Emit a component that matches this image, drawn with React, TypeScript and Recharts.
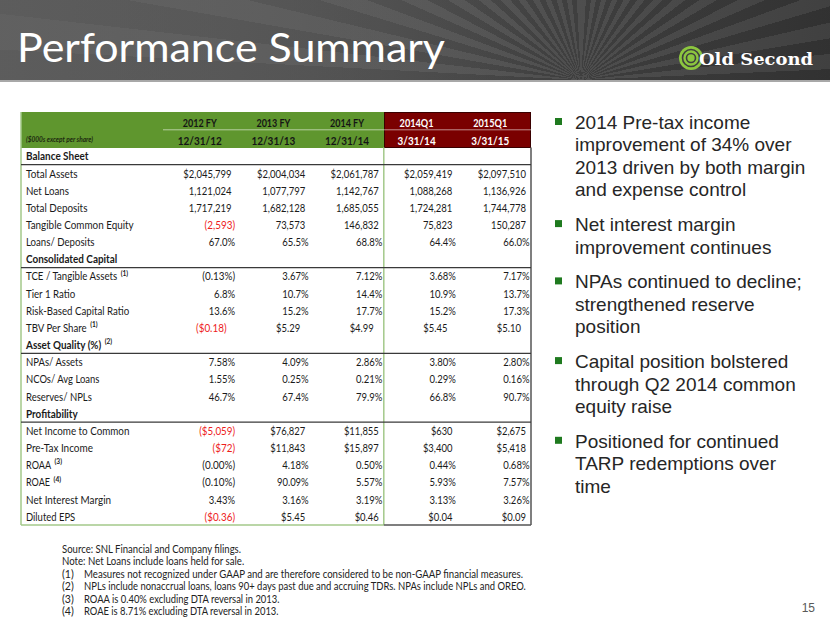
import React from 'react'
import { ScatterChart, Scatter, XAxis, YAxis, ReferenceLine } from 'recharts'

const columnHeads = ['2012 FY', '2013 FY', '2014 FY', '2014Q1', '2015Q1']
const columnDates = ['12/31/12', '12/31/13', '12/31/14', '3/31/14', '3/31/15']

const rowLabels = [
  'Balance Sheet',
  'Total Assets',
  'Net Loans',
  'Total Deposits',
  'Tangible Common Equity',
  'Loans/ Deposits',
  'Consolidated Capital',
  'TCE / Tangible Assets',
  'Tier 1 Ratio',
  'Risk-Based Capital Ratio',
  'TBV Per Share',
  'Asset Quality (%)',
  'NPAs/ Assets',
  'NCOs/ Avg Loans',
  'Reserves/ NPLs',
  'Profitability',
  'Net Income to Common',
  'Pre-Tax Income',
  'ROAA',
  'ROAE',
  'Net Interest Margin',
  'Diluted EPS',
]
const sectionRows = ['Balance Sheet', 'Consolidated Capital', 'Asset Quality (%)', 'Profitability']
const rowNotes: Record<string, string> = {
  'TCE / Tangible Assets': '(1)',
  'TBV Per Share': '(1)',
  'Asset Quality (%)': '(2)',
  ROAA: '(3)',
  ROAE: '(4)',
}

// values in row order, section rows skipped
const values2012 = ['$2,045,799', '1,121,024', '1,717,219', '(2,593)', '67.0%', '(0.13%)', '6.8%', '13.6%', '($0.18)', '7.58%', '1.55%', '46.7%', '($5,059)', '($72)', '(0.00%)', '(0.10%)', '3.43%', '($0.36)']
const values2013 = ['$2,004,034', '1,077,797', '1,682,128', '73,573', '65.5%', '3.67%', '10.7%', '15.2%', '$5.29', '4.09%', '0.25%', '67.4%', '$76,827', '$11,843', '4.18%', '90.09%', '3.16%', '$5.45']
const values2014 = ['$2,061,787', '1,142,767', '1,685,055', '146,832', '68.8%', '7.12%', '14.4%', '17.7%', '$4.99', '2.86%', '0.21%', '79.9%', '$11,855', '$15,897', '0.50%', '5.57%', '3.19%', '$0.46']
const values2014Q1 = ['$2,059,419', '1,088,268', '1,724,281', '75,823', '64.4%', '3.68%', '10.9%', '15.2%', '$5.45', '3.80%', '0.29%', '66.8%', '$630', '$3,400', '0.44%', '5.93%', '3.13%', '$0.04']
const values2015Q1 = ['$2,097,510', '1,136,926', '1,744,778', '150,287', '66.0%', '7.17%', '13.7%', '17.3%', '$5.10', '2.80%', '0.16%', '90.7%', '$2,675', '$5,418', '0.68%', '7.57%', '3.26%', '$0.09']
const columnValues = [values2012, values2013, values2014, values2014Q1, values2015Q1]

const bullets = [
  ['2014 Pre-tax income', 'improvement of 34% over', '2013 driven by both margin', 'and expense control'],
  ['Net interest margin', 'improvement continues'],
  ['NPAs continued to decline;', 'strengthened reserve', 'position'],
  ['Capital position bolstered', 'through Q2 2014 common', 'equity raise'],
  ['Positioned for continued', 'TARP redemptions over', 'time'],
]

const notes = ['Source: SNL Financial and Company filings.', 'Note: Net Loans include loans held for sale.']
const numberedNotes = [
  'Measures not recognized under GAAP and are therefore considered to be non-GAAP financial measures.',
  'NPLs include nonaccrual loans, loans 90+ days past due and accruing TDRs. NPAs include NPLs and OREO.',
  'ROAA is 0.40% excluding DTA reversal in 2013.',
  'ROAE is 8.71% excluding DTA reversal in 2013.',
]

// approximate advance widths (em) of the slide's original sans face, used to keep text widths
const GLYPH: Record<string, number> = {
  ' ': 0.226, ',': 0.25, '.': 0.252, $: 0.507, '%': 0.715, '(': 0.303, ')': 0.303, '/': 0.386, '-': 0.306,
  ':': 0.268, ';': 0.268, '+': 0.498,
  a: 0.479, b: 0.525, c: 0.423, d: 0.525, e: 0.498, f: 0.305, g: 0.471, h: 0.525, i: 0.229, j: 0.239, k: 0.455,
  l: 0.229, m: 0.799, n: 0.525, o: 0.527, p: 0.525, q: 0.525, r: 0.349, s: 0.391, t: 0.335, u: 0.525, v: 0.452,
  w: 0.715, x: 0.433, y: 0.453, z: 0.395,
  A: 0.579, B: 0.544, C: 0.533, D: 0.615, E: 0.488, F: 0.459, G: 0.631, H: 0.623, I: 0.252, J: 0.319, K: 0.52,
  L: 0.42, M: 0.855, N: 0.646, O: 0.662, P: 0.517, Q: 0.673, R: 0.543, S: 0.459, T: 0.487, U: 0.642, V: 0.567,
  W: 0.89, X: 0.519, Y: 0.487, Z: 0.468,
}
const emWidth = (t: string) => t.split('').reduce((s, ch) => s + (/[0-9]/.test(ch) ? 0.507 : GLYPH[ch] ?? 0.5), 0)
const textW = (t: string, size: number, bold = false) => emWidth(t) * size * (bold ? 1.03 : 1)

// table geometry
const T_LEFT = 21
const T_RIGHT = 531
const H_TOP = 112
const B_TOP = 147.5
const T_BOTTOM = 525
const LABEL_W = 142
const COL_W = (T_RIGHT - T_LEFT - LABEL_W) / columnHeads.length
const ROW_H = (T_BOTTOM - B_TOP) / rowLabels.length
const SPLIT_X = T_LEFT + LABEL_W + COL_W * 3
const BODY_SIZE = 10.6
const GLYPH_SIZE = 10.8

const valueRows = rowLabels.filter((r) => !sectionRows.includes(r))
const series = columnValues.map((vals, c) =>
  vals.map((text, i) => ({ x: c + 0.5, y: rowLabels.indexOf(valueRows[i]) + 0.5, text, row: valueRows[i] })),
)

const CellText = (props: any) => {
  const { cx, cy, payload } = props
  const t: string = payload.text
  const pct = t.endsWith('%') || t.endsWith('%)')
  const paren = t.startsWith('(')
  let off = pct || paren ? 1.5 : 5
  if (payload.row === 'TBV Per Share') off = 10
  return (
    <text
      x={cx + COL_W / 2 - off}
      y={cy + 4.3}
      textAnchor="end"
      fontSize={GLYPH_SIZE}
      fontFamily="Lato"
      textLength={textW(t, BODY_SIZE)}
      lengthAdjust="spacingAndGlyphs"
      fill={paren && !pct ? '#ee1c1c' : '#1a1a1a'}
    >
      {t}
    </text>
  )
}

const HeadTick = (props: any) => {
  const { x, payload } = props
  const i = Math.floor(payload.value)
  const fill = i < 3 ? '#151515' : '#ffffff'
  const cx = x + (i < 3 ? 0 : -4)
  return (
    <g fontFamily="Lato" fontWeight="bold" textAnchor="middle" fill={fill}>
      <text x={cx} y={127.3} fontSize={10.4} textLength={textW(columnHeads[i], 10.3, true)} lengthAdjust="spacingAndGlyphs">
        {columnHeads[i]}
      </text>
      <text x={cx} y={144.5} fontSize={11.8} textLength={textW(columnDates[i], 11.2, true)} lengthAdjust="spacingAndGlyphs">
        {columnDates[i]}
      </text>
    </g>
  )
}

const RowTick = (props: any) => {
  const { y, payload } = props
  const label = rowLabels[Math.floor(payload.value)]
  const bold = sectionRows.includes(label)
  const note = rowNotes[label]
  const w = textW(label, BODY_SIZE, bold)
  return (
    <g fontFamily="Lato" fill="#1a1a1a">
      <text
        x={T_LEFT + 5}
        y={y + 4.3}
        fontSize={GLYPH_SIZE}
        fontWeight={bold ? 'bold' : 'normal'}
        textLength={w}
        lengthAdjust="spacingAndGlyphs"
      >
        {label}
      </text>
      {note && (
        <text x={T_LEFT + 5 + w + 3.5} y={y - 0.5} fontSize={6.6} fontWeight="bold">
          {note}
        </text>
      )}
    </g>
  )
}

export default function App() {
  let by = 129
  const bulletLayout = bullets.map((lines) => {
    const start = by
    by += lines.length * 22.4 + 12.5
    return { lines, start }
  })
  const noteSize = 439 / emWidth(numberedNotes[0])
  return (
    <div style={{ position: 'absolute', left: 0, top: 0, width: 830, height: 623, overflow: 'hidden', background: '#fff', fontFamily: 'Lato' }}>
      <div
        style={{
          position: 'absolute',
          left: 0,
          top: 0,
          width: 830,
          height: 80,
          background:
            'linear-gradient(90deg, rgba(92,92,92,0.75) 0%, rgba(88,88,88,0.45) 40%, rgba(80,80,80,0) 65%), repeating-conic-gradient(from 0deg at 70% 100%, rgba(255,255,255,0.05) 0deg 3.5deg, rgba(0,0,0,0.09) 3.5deg 7deg), linear-gradient(95deg, #666 0%, #5a5a5a 35%, #474747 65%, #363636 100%)',
        }}
      />
      <div style={{ position: 'absolute', left: 0, top: 80, width: 830, height: 2, background: '#a8a8a8' }} />
      <div style={{ position: 'absolute', left: T_LEFT, top: H_TOP, width: SPLIT_X - T_LEFT, height: B_TOP - H_TOP, background: '#5f962e' }} />
      <div style={{ position: 'absolute', left: SPLIT_X, top: H_TOP, width: T_RIGHT - SPLIT_X, height: B_TOP - H_TOP, background: '#7a0000', boxSizing: 'border-box', border: '1px solid #3a0000' }} />
      <div style={{ position: 'absolute', left: 0, top: 0 }}>
        <ScatterChart width={830} height={623} margin={{ top: H_TOP, right: 830 - T_RIGHT, bottom: 623 - T_BOTTOM, left: T_LEFT }}>
          <XAxis
            type="number"
            dataKey="x"
            domain={[0, 5]}
            ticks={columnHeads.map((_, i) => i + 0.5)}
            interval={0}
            orientation="top"
            height={B_TOP - H_TOP}
            axisLine={false}
            tickLine={false}
            tick={HeadTick}
          />
          <YAxis
            type="number"
            dataKey="y"
            domain={[0, rowLabels.length]}
            reversed
            ticks={rowLabels.map((_, i) => i + 0.5)}
            interval={0}
            width={LABEL_W}
            axisLine={false}
            tickLine={false}
            tick={RowTick}
          />
          <ReferenceLine x={3} stroke="#a3c98a" strokeWidth={1.5} />
          <ReferenceLine x={5} stroke="#555555" strokeWidth={1.5} />
          {series.map((data, c) => (
            <Scatter key={columnHeads[c]} data={data} shape={CellText} isAnimationActive={false} />
          ))}
        </ScatterChart>
      </div>
      <svg width={830} height={623} style={{ position: 'absolute', left: 0, top: 0, pointerEvents: 'none' }}>
        {/* header row divider */}
        <line x1={T_LEFT + LABEL_W} x2={T_RIGHT} y1={129.8} y2={129.8} stroke="rgba(255,255,255,0.55)" strokeWidth={1} />
        <text x={T_LEFT + 5} y={142} fontSize={6.5} fontStyle="italic" fontWeight="bold" fill="#1e2a10" fontFamily="Lato" textLength={67} lengthAdjust="spacingAndGlyphs">
          ($000s except per share)
        </text>
        {/* table borders */}
        <line x1={T_LEFT} x2={T_LEFT} y1={H_TOP} y2={T_BOTTOM} stroke="#a3c98a" strokeWidth={1.5} />
        <line x1={T_LEFT} x2={SPLIT_X} y1={T_BOTTOM} y2={T_BOTTOM} stroke="#a3c98a" strokeWidth={1.5} />
        <line x1={SPLIT_X} x2={T_RIGHT} y1={T_BOTTOM} y2={T_BOTTOM} stroke="#555" strokeWidth={1.5} />
        {sectionRows.map((r) => {
          const yy = B_TOP + (rowLabels.indexOf(r) + 1) * ROW_H
          return <line key={r} x1={T_LEFT} x2={T_RIGHT} y1={yy} y2={yy} stroke="#3a3a3a" strokeWidth={1.2} />
        })}
        {/* title + logo */}
        <text x={17} y={62} fontSize={41} fontFamily="Lato" fill="#ffffff" textLength={428} lengthAdjust="spacingAndGlyphs">
          Performance Summary
        </text>
        <circle cx={691} cy={58} r={12} fill="#8cc63f" />
        <circle cx={691} cy={58} r={8.5} fill="none" stroke="#3f3f3f" strokeWidth={1.6} />
        <circle cx={691} cy={58} r={4.5} fill="none" stroke="#3f3f3f" strokeWidth={1.6} />
        <text x={699} y={65} fontSize={17} fontFamily="DejaVu Serif" fontWeight="bold" fill="#ffffff" textLength={114} lengthAdjust="spacingAndGlyphs">
          Old Second
        </text>
        {/* bullets */}
        {bulletLayout.map(({ lines, start }, i) => (
          <g key={i}>
            <rect x={555} y={start - 11} width={7} height={7} fill="#1f7a1f" />
            {lines.map((ln, j) => (
              <text key={j} x={575} y={start + j * 22.4} fontSize={19} fontFamily="Liberation Sans" fill="#262626">
                {ln}
              </text>
            ))}
          </g>
        ))}
        {/* footnotes */}
        {notes.map((n, i) => (
          <text key={n} x={62} y={553 + i * 12.4} fontSize={noteSize * 1.02} fontFamily="Lato" fill="#222" textLength={textW(n, noteSize)} lengthAdjust="spacingAndGlyphs">
            {n}
          </text>
        ))}
        {numberedNotes.map((n, i) => (
          <g key={n} fontSize={noteSize * 1.02} fontFamily="Lato" fill="#222">
            <text x={62} y={553 + (i + 2) * 12.4}>{`(${i + 1})`}</text>
            <text x={84} y={553 + (i + 2) * 12.4} textLength={textW(n, noteSize)} lengthAdjust="spacingAndGlyphs">
              {n}
            </text>
          </g>
        ))}
        <text x={815} y={612} fontSize={12} fontFamily="Liberation Sans" fill="#595959" textAnchor="end">
          15
        </text>
      </svg>
    </div>
  )
}
